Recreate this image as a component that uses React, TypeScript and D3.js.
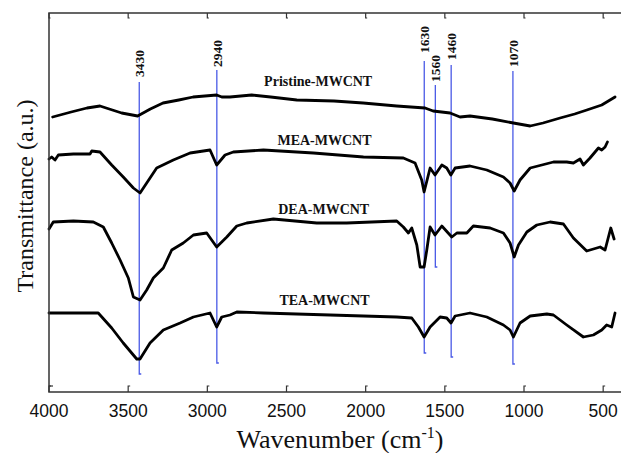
import React from "react";
import * as d3 from "d3";

// wavenumber (cm-1), transmittance (a.u.)
const pristineW = [3977, 3860, 3760, 3678, 3600, 3541, 3440, 3360, 3280, 3180, 3090, 2941, 2909, 2857, 2720, 2600, 2435, 2200, 2016, 1804, 1625, 1574, 1467, 1404, 1341, 1200, 1067, 961, 880, 772, 680, 603, 509, 425];
const pristineT = [275, 280, 284, 286, 282, 279, 276, 283, 289, 292, 295, 297, 295, 295, 297, 295, 292, 291, 289, 286, 284, 281, 279, 275, 276, 273, 269, 266, 269, 274, 278, 282, 287, 295];

const meaW = [4000, 3983, 3962, 3941, 3846, 3741, 3730, 3678, 3604, 3531, 3467, 3425, 3383, 3320, 3215, 3109, 2983, 2941, 2888, 2836, 2646, 2330, 2014, 1762, 1688, 1646, 1631, 1593, 1562, 1519, 1488, 1462, 1435, 1341, 1235, 1130, 1088, 1062, 1025, 961, 814, 730, 688, 646, 625, 583, 530, 509, 488, 473];
const meaT = [233, 235, 232, 237, 238, 238, 241, 240, 227, 215, 204, 199, 209, 224, 232, 239, 242, 227, 237, 240, 242, 239, 235, 234, 229, 212, 200, 224, 217, 227, 224, 217, 224, 226, 222, 215, 209, 201, 212, 224, 230, 230, 229, 233, 227, 234, 244, 242, 245, 250];

const deaW = [4000, 3973, 3846, 3720, 3657, 3604, 3551, 3499, 3467, 3425, 3383, 3341, 3278, 3225, 3152, 3088, 3004, 2941, 2877, 2814, 2751, 2583, 2309, 2120, 1804, 1762, 1730, 1709, 1677, 1656, 1631, 1614, 1593, 1562, 1519, 1456, 1424, 1361, 1320, 1214, 1130, 1088, 1062, 1035, 982, 919, 835, 751, 688, 604, 519, 488, 452, 431];
const deaT = [163, 170, 171, 170, 165, 149, 132, 114, 95, 92, 102, 114, 124, 142, 149, 157, 159, 145, 155, 166, 169, 173, 169, 169, 171, 165, 159, 164, 147, 125, 125, 142, 165, 157, 166, 155, 159, 159, 166, 164, 159, 149, 135, 147, 160, 167, 170, 168, 154, 141, 145, 142, 164, 153];

const teaW = [4000, 3931, 3689, 3604, 3531, 3446, 3425, 3362, 3278, 3172, 3088, 2983, 2941, 2909, 2857, 2814, 2646, 2225, 1804, 1709, 1667, 1631, 1593, 1530, 1488, 1461, 1435, 1341, 1235, 1130, 1088, 1067, 1025, 961, 856, 814, 730, 625, 562, 509, 478, 446, 425];
const teaT = [79, 79, 79, 64, 49, 33, 33, 49, 62, 69, 75, 79, 65, 75, 77, 80, 79, 77, 75, 74, 65, 55, 65, 75, 74, 69, 76, 79, 75, 67, 62, 55, 69, 76, 78, 77, 67, 55, 57, 62, 67, 65, 79];

const seriesNames = ["Pristine-MWCNT", "MEA-MWCNT", "DEA-MWCNT", "TEA-MWCNT"];
const seriesW = [pristineW, meaW, deaW, teaW];
const seriesT = [pristineT, meaT, deaT, teaT];
const labelW = [2300, 2260, 2265, 2260];
const labelT = [306, 247, 178, 87];

const peakW = [3430, 2940, 1630, 1560, 1460, 1070];
const peakTop = [310, 322, 331, 307, 327, 321];
const peakBottom = [18, 29, 39, 125, 35, 28];
const peakLabelT = [315, 325, 339, 310, 332, 325];

const xTicks = [4000, 3500, 3000, 2500, 2000, 1500, 1000, 500];

const W = 621;
const H = 453;
const left = 49;
const right = 619;
const top = 13;
const bottom = 392;

const serif = "Liberation Serif, Times New Roman, serif";
const sans = "Liberation Sans, Arial, sans-serif";
const blue = "#4a5ae6";

export default function App() {
  const x = d3.scaleLinear().domain([4000, 400]).range([left, right]);
  const y = d3.scaleLinear().domain([0, 379]).range([bottom, top]);
  const line = d3
    .line<[number, number]>()
    .x((d) => x(d[0]))
    .y((d) => y(d[1]))
    .curve(d3.curveLinear);

  return (
    <svg
      width={W}
      height={H}
      style={{ position: "absolute", left: 0, top: 0, background: "#fff" }}
    >
      {/* peak markers */}
      {peakW.map((w, i) => (
        <g key={"p" + i}>
          <path
            d={`M${x(w)},${y(peakTop[i])}V${y(peakBottom[i])}h2`}
            stroke={blue}
            strokeWidth={1.3}
            fill="none"
          />
          <text
            transform={`translate(${x(w) + 5},${y(peakLabelT[i])}) rotate(-90)`}
            style={{ fontFamily: serif, fontWeight: "bold", fontSize: "13.5px" }}
            fill="#111"
          >
            {w}
          </text>
        </g>
      ))}

      {/* spectra */}
      {seriesW.map((ws, i) => (
        <path
          key={"s" + i}
          d={line(ws.map((w, j) => [w, seriesT[i][j]]) as [number, number][]) || ""}
          stroke="#000"
          strokeWidth={2.8}
          fill="none"
          strokeLinejoin="round"
          strokeLinecap="round"
        />
      ))}

      {seriesNames.map((n, i) => (
        <text
          key={"l" + i}
          x={x(labelW[i])}
          y={y(labelT[i])}
          textAnchor="middle"
          style={{ fontFamily: serif, fontWeight: "bold", fontSize: "14px" }}
          fill="#111"
        >
          {n}
        </text>
      ))}

      {/* frame */}
      <path
        d={`M${W},${top}H${left}V${bottom}H${W}`}
        stroke="#333"
        strokeWidth={1.5}
        fill="none"
      />
      {xTicks.map((t) => (
        <g key={"t" + t}>
          <path d={`M${x(t)},${bottom}V${bottom - 6}h2`} stroke="#333" strokeWidth={1.2} fill="none" />
          <path d={`M${x(t)},${top}V${top + 5}h1.5`} stroke="#333" strokeWidth={1.2} fill="none" />
          <text
            x={x(t)}
            y={417}
            textAnchor="middle"
            style={{ fontFamily: sans, fontSize: "17.5px" }}
            fill="#111"
          >
            {t}
          </text>
        </g>
      ))}
      <path d={`M${left},${bottom - 6}h4`} stroke="#333" strokeWidth={1.2} />

      {/* axis titles */}
      <text
        x={340}
        y={448}
        textAnchor="middle"
        style={{ fontFamily: serif, fontSize: "26px" }}
        fill="#111"
      >
        Wavenumber (cm
        <tspan dy={-10} style={{ fontSize: "16px" }}>-1</tspan>
        <tspan dy={10}>)</tspan>
      </text>
      <text
        transform={`translate(33,196) rotate(-90)`}
        textAnchor="middle"
        style={{ fontFamily: serif, fontSize: "24px" }}
        fill="#111"
      >
        Transmittance (a.u.)
      </text>
    </svg>
  );
}
